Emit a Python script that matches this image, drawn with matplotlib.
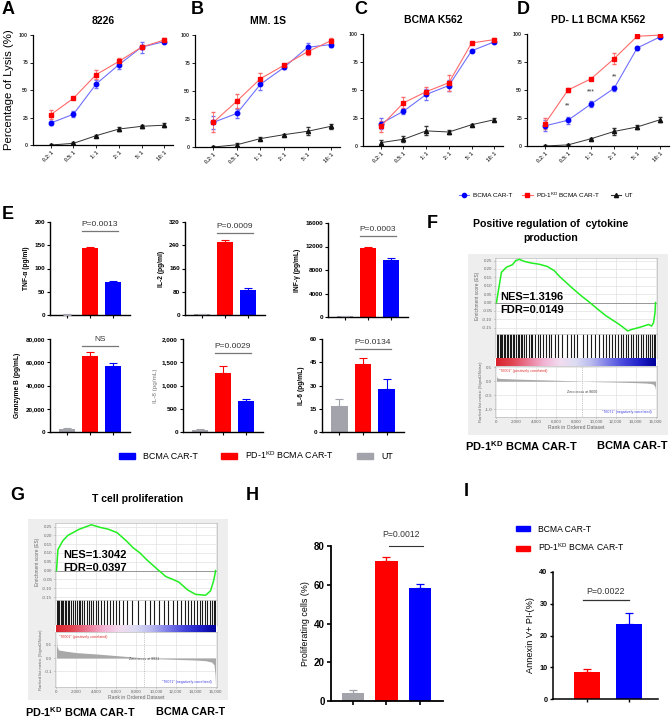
import numpy as np
import matplotlib
matplotlib.use('Agg')
import matplotlib.pyplot as plt
from matplotlib.lines import Line2D
from matplotlib.patches import Patch
from matplotlib.colors import LinearSegmentedColormap

plt.rcParams['font.family'] = ['Liberation Sans', 'DejaVu Sans']
plt.rcParams['mathtext.fontset'] = 'custom'
plt.rcParams['mathtext.rm'] = 'Liberation Sans'
plt.rcParams['mathtext.bf'] = 'Liberation Sans:bold'
plt.rcParams['mathtext.default'] = 'regular'

# ---------------- data ----------------
ratios = ["0.2: 1", "0.5: 1", "1: 1", "2: 1", "5: 1", "10: 1"]
lysis_titles = ["8226", "MM. 1S", "BCMA K562", "PD- L1 BCMA K562"]

a_bcma = [20, 28, 55.5, 73, 89, 94]
a_bcma_err = [1.5, 2.5, 4, 4, 5, 1.5]
a_kd = [27.5, 42.5, 64, 76, 89, 95.5]
a_kd_err = [4, 1, 4, 3, 2, 1.5]
a_ut = [0, 1.5, 8.5, 14.5, 17, 18]
a_ut_err = [1, 1, 1, 2, 1.5, 2]

b_bcma = [22, 30, 56, 71, 89, 91.5]
b_bcma_err = [6, 4, 5, 1.5, 4, 2.5]
b_kd = [22, 41, 61, 73, 85, 95]
b_kd_err = [9, 6, 5.5, 1.5, 3, 2]
b_ut = [0, 2, 7.5, 11, 14, 18.5]
b_ut_err = [1, 2, 1, 1, 3.5, 2]

c_bcma = [20, 31, 46, 54, 85, 93]
c_bcma_err = [5, 2, 5, 5, 1, 1]
c_kd = [17.5, 38.5, 48.5, 56.5, 92, 95]
c_kd_err = [5, 5, 4, 7, 1, 1]
c_ut = [3, 6, 13.5, 12.5, 19, 23.5]
c_ut_err = [2, 2.5, 4, 2, 1, 1.5]

d_bcma = [18, 23, 37.5, 51.5, 87.5, 97.5]
d_bcma_err = [5, 3, 3, 2.5, 1.5, 1.5]
d_kd = [20, 50, 60, 78, 98, 99]
d_kd_err = [5, 1.5, 1, 5, 1, 1]
d_ut = [0, 1, 6.5, 13, 17, 23.5]
d_ut_err = [0.5, 0.5, 1, 3, 1.5, 2]
d_sig_x = [1, 2, 3]
d_sig_y = [36, 48.5, 61.5]
d_sig_txt = ["**", "***", "**"]

cyto_names = ["TNF-α (pg/ml)", "IL-2 (pg/ml)", "INF-γ (pg/mL)",
              "Granzyme B (pg/mL)", "IL-8 (pg/mL)", "IL-6 (pg/mL)"]
cyto_ut = [1, 3, 100, 3000, 50, 17]
cyto_ut_err = [0.5, 1, 50, 500, 20, 4]
cyto_kd = [144, 252, 11800, 65500, 1270, 44]
cyto_kd_err = [3, 6, 150, 3500, 150, 4]
cyto_bcma = [72, 86, 9700, 57000, 670, 28]
cyto_bcma_err = [1, 6, 300, 2000, 40, 6]
cyto_p = ["P=0.0013", "P=0.0009", "P=0.0003", "NS", "P=0.0029", "P=0.0134"]
cyto_p_y = [180, 282, 13800, 74000, 1700, 53.5]
cyto_ymax = [200, 320, 16000, 80000, 2000, 60]
cyto_ticks = [[0, 50, 100, 150, 200], [0, 80, 160, 240, 320],
              [0, 4000, 8000, 12000, 16000], [0, 20000, 40000, 60000, 80000],
              [0, 500, 1000, 1500, 2000], [0, 15, 30, 45, 60]]
cyto_ticklabels = [["0", "50", "100", "150", "200"], ["0", "80", "160", "240", "320"],
                   ["0", "4000", "8000", "12000", "16000"],
                   ["0", "20,000", "40,000", "60,000", "80,000"],
                   ["0", "500", "1,000", "1,500", "2,000"], ["0", "15", "30", "45", "60"]]

# GSEA F (positive regulation of cytokine production)
f_rank = [0, 160, 500, 1000, 1600, 1950, 2300, 2800, 3500, 4300, 5100, 5800, 6400,
          7000, 7700, 8700, 9400, 10200, 11000, 11700, 12300, 12800, 13200, 13600,
          14300, 14800, 15300, 15600, 15800, 15950, 16000]
f_es = [0.0, 0.06, 0.18, 0.21, 0.225, 0.25, 0.257, 0.245, 0.235, 0.228, 0.215, 0.19,
        0.152, 0.12, 0.082, 0.032, 0.0, -0.04, -0.078, -0.105, -0.128, -0.15, -0.169,
        -0.16, -0.149, -0.14, -0.13, -0.14, -0.12, -0.06, 0.0]
f_hits = [50, 200, 350, 480, 600, 720, 900, 1050, 1200, 1350, 1500, 1650, 1800, 2000,
          2150, 2300, 2450, 2600, 2800, 3000, 3250, 3450, 3600, 3850, 4150, 4400, 4700,
          5000, 5250, 5500, 5900, 6200, 6600, 7100, 7500, 7800, 8100, 8700, 9100, 9500,
          9900, 10300, 10700, 11000, 11300, 11650, 11900, 12200, 12500, 12750, 13000,
          13250, 13500, 13750, 14000, 14250, 14500, 14750, 15000, 15250, 15450, 15650,
          15850, 15950]
f_m_rank = [0, 60, 300, 1000, 2000, 4000, 6000, 8000, 8600, 10000, 12000, 14000,
            15000, 15500, 15800, 15950, 16000]
f_m_val = [0.2, 0.12, 0.1, 0.09, 0.075, 0.055, 0.035, 0.012, 0.0, -0.015, -0.03,
           -0.05, -0.065, -0.08, -0.11, -0.2, -0.32]

# GSEA G (T cell proliferation)
g_rank = [0, 150, 650, 1150, 1650, 2300, 2800, 3500, 4400, 5200, 6100, 7000, 7700,
          8400, 9050, 10000, 11000, 11700, 12300, 13200, 14000, 15000, 15500, 15800,
          15950, 16000]
g_es = [0.0, 0.12, 0.17, 0.2, 0.215, 0.235, 0.245, 0.26, 0.245, 0.235, 0.215, 0.17,
        0.13, 0.1, 0.063, 0.015, -0.034, -0.05, -0.065, -0.11, -0.135, -0.14, -0.115,
        -0.06, -0.02, 0.0]
g_hits = [40, 150, 300, 420, 560, 700, 850, 1000, 1150, 1300, 1500, 1700, 1850, 2050,
          2250, 2400, 2600, 2800, 3050, 3300, 3500, 3700, 3950, 4200, 4500, 4800, 5100,
          5400, 5700, 6000, 6300, 6700, 7100, 7600, 8200, 8900, 9400, 9800, 10300, 10800,
          11200, 11700, 12100, 12500, 12900, 13200, 13500, 13800, 14100, 14400, 14650,
          14900, 15150, 15400, 15600, 15800, 15950]
g_m_rank = [0, 40, 200, 1000, 2000, 4000, 6000, 8000, 8831, 10000, 12000, 14000,
            15000, 15600, 15850, 15950, 16000]
g_m_val = [0.19, 0.09, 0.06, 0.05, 0.04, 0.03, 0.018, 0.006, 0.0, -0.005, -0.01,
           -0.015, -0.02, -0.03, -0.05, -0.12, -0.2]

prolif_vals = [4, 72.5, 58.5]
prolif_err = [1.5, 1.8, 1.8]
apop_vals = [8.5, 23.5]
apop_err = [0.8, 3.7]

# ---------------- style ----------------
BLUE = '#0000ff'
RED = '#ff0000'
GRAY = '#a3a3ab'
BLUE_L = '#6f6fff'
RED_L = '#ff6a6a'
KD_BOLD = "PD-1$^{\\mathbf{KD}}$ BCMA CAR-T"
KD = "PD-1$^{KD}$ BCMA CAR-T"

W, H = 672, 720
fig = plt.figure(figsize=(W / 100, H / 100), dpi=100)


def axpx(l, t, r, b, **kw):
    return fig.add_axes([l / W, 1 - b / H, (r - l) / W, (b - t) / H], **kw)


def ftext(x, y, s, **kw):
    fig.text(x / W, 1 - y / H, s, **kw)


def clean(ax, lw=0.9):
    ax.spines['top'].set_visible(False)
    ax.spines['right'].set_visible(False)
    ax.spines['left'].set_linewidth(lw)
    ax.spines['bottom'].set_linewidth(lw)


# ---------------- A-D ----------------
lys_boxes = [(33, 35, 173, 145), (195, 35, 340, 147), (363, 34, 503, 146), (527, 34, 669, 146)]
lys_data = [(a_bcma, a_bcma_err, a_kd, a_kd_err, a_ut, a_ut_err),
            (b_bcma, b_bcma_err, b_kd, b_kd_err, b_ut, b_ut_err),
            (c_bcma, c_bcma_err, c_kd, c_kd_err, c_ut, c_ut_err),
            (d_bcma, d_bcma_err, d_kd, d_kd_err, d_ut, d_ut_err)]
xs = np.arange(len(ratios))
for i, (box, dat, title) in enumerate(zip(lys_boxes, lys_data, lysis_titles)):
    ax = axpx(*box)
    bl, ble, rd, rde, ut, ute = dat
    ax.errorbar(xs, bl, yerr=ble, color=BLUE_L, marker='o', mfc=BLUE, mec=BLUE, ms=3.2,
                lw=0.8, capsize=1.6, elinewidth=0.6, ecolor=BLUE_L)
    ax.errorbar(xs, rd, yerr=rde, color=RED_L, marker='s', mfc=RED, mec=RED, ms=3.2,
                lw=0.8, capsize=1.6, elinewidth=0.6, ecolor=RED_L)
    ax.errorbar(xs, ut, yerr=ute, color='#333333', marker='^', mfc='#111111', mec='#111111',
                ms=3.0, lw=0.7, capsize=1.6, elinewidth=0.6)
    ax.set_xlim(-0.78, 5.38)
    ax.set_ylim(0, 100)
    ax.set_yticks([0, 25, 50, 75, 100])
    ax.set_xticks(xs)
    ax.set_xticklabels(ratios, rotation=45, ha='right', rotation_mode='anchor',
                       fontsize=3.6, fontweight='bold', color='#333333')
    for lab in ax.get_yticklabels():
        lab.set_fontsize(3.8)
        lab.set_fontweight('bold')
        lab.set_color('#333333')
    ax.tick_params(length=2, width=0.6, pad=1.5)
    clean(ax, 0.9)
    ax.set_title(title, fontsize=7.5, fontweight='bold', pad=8)
    if i == 0:
        ax.set_ylabel("Percentage of Lysis (%)", fontsize=8.2, labelpad=4)
    if i == 3:
        for sx, sy, st in zip(d_sig_x, d_sig_y, d_sig_txt):
            ax.text(sx, sy, st, fontsize=5, ha='center', va='center', color='#333333')

for lab, x, y in [("A", 8, 10), ("B", 197, 10), ("C", 361, 9), ("D", 523, 9)]:
    ftext(x, y, lab, fontsize=13, fontweight='bold', ha='center', va='center')

lys_handles = [Line2D([], [], color=BLUE_L, marker='o', mfc=BLUE, mec=BLUE, ms=3, lw=0.8),
               Line2D([], [], color=RED_L, marker='s', mfc=RED, mec=RED, ms=3, lw=0.8),
               Line2D([], [], color='#333333', marker='^', mfc='#111111', mec='#111111', ms=3, lw=0.8)]
fig.legend(lys_handles, ["BCMA CAR-T", KD, "UT"], ncol=3,
           loc='center', bbox_to_anchor=(546 / W, 1 - 195 / H), frameon=False,
           fontsize=4.6, handlelength=1.6, columnspacing=1.6, handletextpad=0.6)

# ---------------- E ----------------
ftext(8, 214, "E", fontsize=13, fontweight='bold', ha='center', va='center')
e_boxes = [(50, 222, 130, 315), (185, 222, 265, 315), (328, 223, 408, 317),
           (50, 339, 130, 432), (183, 339, 263, 432), (322, 339, 404, 432)]
bx = np.arange(3)
for k, box in enumerate(e_boxes):
    ax = axpx(*box)
    vals = [cyto_ut[k], cyto_kd[k], cyto_bcma[k]]
    errs = [cyto_ut_err[k], cyto_kd_err[k], cyto_bcma_err[k]]
    cols = [GRAY, RED, BLUE]
    ax.bar(bx, vals, width=0.7, color=cols, zorder=2)
    for xx, v, e, c in zip(bx, vals, errs, cols):
        ax.errorbar([xx], [v], yerr=[[0], [e]], fmt='none', ecolor=c, capsize=2.6,
                    elinewidth=0.8, capthick=0.8, zorder=3)
    ax.set_xlim(-0.74, 2.74)
    ax.set_ylim(0, cyto_ymax[k])
    ax.set_yticks(cyto_ticks[k])
    ax.set_yticklabels(cyto_ticklabels[k], fontsize=4.6, fontweight='bold')
    ax.set_xticks(bx)
    ax.set_xticklabels([])
    ax.tick_params(length=2.2, width=0.8, pad=1.5)
    clean(ax, 1.0)
    if k == 4:
        ax.set_ylabel(cyto_names[k], fontsize=4.6, color='#777777', labelpad=3)
    else:
        ax.set_ylabel(cyto_names[k], fontsize=4.8, fontweight='bold', labelpad=3)
    py = cyto_p_y[k]
    ax.plot([0.65, 2.2], [py, py], color='#777777', lw=0.9, clip_on=False)
    ax.text(1.42, py + cyto_ymax[k] * 0.035, cyto_p[k], fontsize=6, ha='center',
            va='bottom', color='#333333', clip_on=False)

e_handles = [Patch(color=BLUE), Patch(color=RED), Patch(color=GRAY)]
fig.legend(e_handles, ["BCMA CAR-T", KD, "UT"], ncol=3,
           loc='center', bbox_to_anchor=(256 / W, 1 - 455 / H), frameon=False,
           fontsize=6.4, handlelength=1.8, handleheight=0.6, columnspacing=2.6,
           handletextpad=0.9)

# ---------------- GSEA ----------------
cmap_rank = LinearSegmentedColormap.from_list(
    'rk', ['#d9232d', '#e04550', '#ea7a96', '#f2b4d4', '#f2dcef', '#dcdcf4',
           '#b8b8ef', '#7c7ce8', '#4646dc', '#2020c8', '#00009a'])


def gsea(box, left, right, es_top, es_bot, hit_bot, col_bot, rank_bot,
         es_r, es_v, es_lim, es_ticks, hits, m_r, m_v, m_lim, m_ticks, zero_txt, zero_x):
    bg = axpx(*box)
    bg.set_facecolor('#eeeeee')
    bg.set_xticks([])
    bg.set_yticks([])
    for s in bg.spines.values():
        s.set_visible(False)
    xlim = (-150, 16150)
    es = axpx(left, es_top, right, es_bot)
    es.grid(color='#e2e2e2', lw=0.5)
    es.plot(es_r, es_v, color='#22ee22', lw=1.1, zorder=3)
    es.axhline(0, color='#8a8a8a', lw=0.6)
    es.set_xlim(*xlim)
    es.set_ylim(*es_lim)
    es.set_yticks(es_ticks)
    es.set_yticklabels(['%.2f' % t for t in es_ticks])
    es.set_xticks(range(0, 16001, 2000))
    es.tick_params(labelbottom=False, length=1, width=0.4, labelsize=3.2,
                   colors='#666666', pad=1)
    es.set_ylabel("Enrichment score (ES)", fontsize=3.4, color='#666666', labelpad=1.5)
    for s in es.spines.values():
        s.set_color('#bbbbbb')
        s.set_linewidth(0.5)

    ht = axpx(left, es_bot, right, hit_bot)
    ht.vlines(hits, 0, 1, color='#1a1a1a', lw=0.8)
    ht.set_xlim(*xlim)
    ht.set_ylim(0, 1)
    ht.set_xticks([])
    ht.set_yticks([])
    for s in ht.spines.values():
        s.set_color('#bbbbbb')
        s.set_linewidth(0.5)

    cs = axpx(left, hit_bot, right, col_bot)
    cs.imshow(np.linspace(0, 1, 256)[None, :], aspect='auto', cmap=cmap_rank,
              extent=(0, 16000, 0, 1))
    cs.set_xlim(*xlim)
    cs.set_xticks([])
    cs.set_yticks([])
    for s in cs.spines.values():
        s.set_visible(False)

    rk = axpx(left, col_bot, right, rank_bot)
    rk.grid(color='#e2e2e2', lw=0.5)
    rk.fill_between(m_r, m_v, 0, color='#a8a8a8', lw=0, zorder=2)
    rk.axvline(zero_x, color='#999999', lw=0.4, ls=(0, (2, 2)))
    rk.set_xlim(*xlim)
    rk.set_ylim(*m_lim)
    rk.set_yticks(m_ticks)
    rk.set_yticklabels(['%.1f' % t for t in m_ticks])
    rk.set_xticks(range(0, 16001, 2000))
    rk.set_xticklabels(["0", "2,000", "4,000", "6,000", "8,000", "10,000", "12,000",
                        "14,000", "16,000"])
    rk.tick_params(length=1, width=0.4, labelsize=3.2, colors='#666666', pad=1)
    rk.set_xlabel("Rank in Ordered Dataset", fontsize=3.6, color='#666666', labelpad=1)
    rk.set_ylabel("Ranked list metric (Signal2Noise)", fontsize=3.0, color='#666666',
                  labelpad=1.5)
    for s in rk.spines.values():
        s.set_color('#bbbbbb')
        s.set_linewidth(0.5)
    rk.text(300, m_lim[1] - (m_lim[1] - m_lim[0]) * 0.05, '"T6001" (positively correlated)',
            fontsize=2.6, color='#e03030', va='top', ha='left')
    rk.text(zero_x, (m_lim[0] + m_lim[1]) * 0.5,
            zero_txt, fontsize=2.6, color='#444444', va='center', ha='center')
    rk.text(15600, m_lim[0] + (m_lim[1] - m_lim[0]) * 0.06, '"T6071" (negatively correlated)',
            fontsize=2.6, color='#4040e0', va='bottom', ha='right')


gsea((468, 254, 668, 435), 495, 657, 258, 334, 358, 366, 417,
     f_rank, f_es, (-0.187, 0.265), [0.25, 0.2, 0.15, 0.1, 0.05, 0.0, -0.05, -0.1, -0.15],
     f_hits, f_m_rank, f_m_val, (-1.27, 0.54), [0.5, 0.0, -0.5, -1.0],
     "Zero cross at 8600", 8600)

gsea((28, 519, 228, 700), 55, 217, 523, 600, 625, 632, 687,
     g_rank, g_es, (-0.167, 0.27), [0.25, 0.2, 0.15, 0.1, 0.05, 0.0, -0.05, -0.1, -0.15],
     g_hits, g_m_rank, g_m_val, (-0.215, 0.193), [0.1, 0.0, -0.1],
     "Zero cross at 8831", 8831)

ftext(432, 224, "F", fontsize=13, fontweight='bold', ha='center', va='center')
ftext(551, 224, "Positive regulation of  cytokine", fontsize=7.6, fontweight='bold',
      ha='center', va='center')
ftext(551, 238, "production", fontsize=7.6, fontweight='bold', ha='center', va='center')
ftext(500, 297, "NES=1.3196", fontsize=8, fontweight='bold', ha='left', va='center')
ftext(500, 310, "FDR=0.0149", fontsize=8, fontweight='bold', ha='left', va='center')
ftext(521, 446, KD_BOLD, fontsize=8, fontweight='bold', ha='center', va='center')
ftext(632, 446, "BCMA CAR-T", fontsize=8, fontweight='bold', ha='center', va='center')

ftext(17, 496, "G", fontsize=13, fontweight='bold', ha='center', va='center')
ftext(138, 499, "T cell proliferation", fontsize=7.6, fontweight='bold', ha='center', va='center')
ftext(63, 555, "NES=1.3042", fontsize=8, fontweight='bold', ha='left', va='center')
ftext(63, 568, "FDR=0.0397", fontsize=8, fontweight='bold', ha='left', va='center')
ftext(80, 712, KD_BOLD, fontsize=7.8, fontweight='bold', ha='center', va='center')
ftext(191, 712, "BCMA CAR-T", fontsize=7.8, fontweight='bold', ha='center', va='center')

# ---------------- H ----------------
ftext(252, 496, "H", fontsize=13, fontweight='bold', ha='center', va='center')
axh = axpx(331, 546, 443, 701)
hx = np.arange(3)
hcols = [GRAY, RED, BLUE]
axh.bar(hx, prolif_vals, width=0.66, color=hcols, zorder=2)
for xx, v, e, c in zip(hx, prolif_vals, prolif_err, hcols):
    axh.errorbar([xx], [v], yerr=[[0], [e]], fmt='none', ecolor=c, capsize=3.2,
                 elinewidth=0.9, capthick=0.9, zorder=3)
axh.set_xlim(-0.66, 2.69)
axh.set_ylim(0, 80)
axh.set_yticks([0, 20, 40, 60, 80])
axh.set_yticklabels(["0", "20", "40", "60", "80"], fontsize=7, fontweight='bold')
axh.set_xticks(hx)
axh.set_xticklabels([])
axh.tick_params(length=3, width=1.2, pad=1.5)
clean(axh, 1.3)
axh.set_ylabel("Proliferating cells (%)", fontsize=6.4, labelpad=3)
axh.plot([1.06, 2.1], [80, 80], color='#333333', lw=0.8, clip_on=False)
axh.text(1.42, 83.5, "P=0.0012", fontsize=6.2, ha='center', va='bottom', clip_on=False,
         color='#333333')

# ---------------- I ----------------
ftext(466, 492, "I", fontsize=13, fontweight='bold', ha='center', va='center')
axi = axpx(553, 572, 658, 699)
ix = np.arange(2)
icols = [RED, BLUE]
axi.bar(ix, apop_vals, width=0.64, color=icols, zorder=2)
for xx, v, e, c in zip(ix, apop_vals, apop_err, icols):
    axi.errorbar([xx], [v], yerr=[[0], [e]], fmt='none', ecolor=c, capsize=3.2,
                 elinewidth=0.9, capthick=0.9, zorder=3)
axi.set_xlim(-0.81, 1.69)
axi.set_ylim(0, 40)
axi.set_yticks([0, 10, 20, 30, 40])
axi.set_yticklabels(["0", "10", "20", "30", "40"], fontsize=5.2, fontweight='bold')
axi.set_xticks(ix)
axi.set_xticklabels([])
axi.tick_params(length=2.5, width=1.0, pad=1.5)
clean(axi, 1.1)
axi.set_ylabel("Annexin V+ PI-(%)", fontsize=6.6, labelpad=3)
axi.plot([-0.1, 1.0], [31.2, 31.2], color='#333333', lw=0.9)
axi.text(0.45, 32.5, "P=0.0022", fontsize=6.4, ha='center', va='bottom', color='#333333')

fig.legend([Patch(color=BLUE), Patch(color=RED)],
           ["BCMA CAR-T", KD], ncol=1, loc='upper left',
           bbox_to_anchor=(508 / W, 1 - 517 / H), frameon=False, fontsize=6.2,
           handlelength=1.6, handleheight=0.5, labelspacing=0.9, handletextpad=1.0)

fig.savefig("out.png", dpi=100)
